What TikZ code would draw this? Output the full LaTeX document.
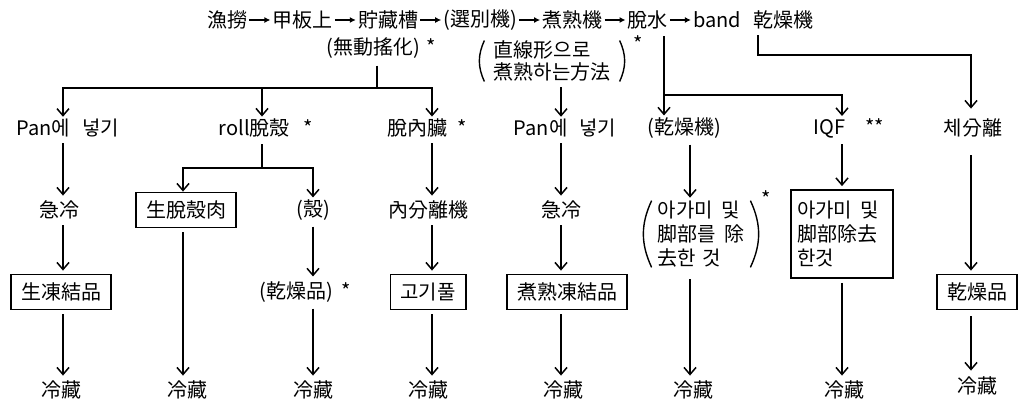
\documentclass[tikz,border=0pt]{standalone}
\usepackage{fontspec}
\newfontfamily\kr{Noto Sans CJK KR}
\usetikzlibrary{arrows.meta,calc,positioning}
\begin{document}
\begin{tikzpicture}[x=1pt,y=-1pt,
  txt/.style={font=\kr\fontsize{20}{24}\selectfont, inner xsep=0pt, inner ysep=2pt},
  boxn/.style={txt, draw, line width=1.8pt, inner xsep=10pt, minimum height=35pt},
  ln/.style={line width=1.5pt},
  arr/.style={ln, -{Straight Barb[length=7pt,width=12pt]}, shorten <=4pt, shorten >=3pt},
  barr/.style={ln, -{Straight Barb[length=7pt,width=12pt]}},
  barr2/.style={ln, {Straight Barb[length=7pt,width=12pt]}-{Straight Barb[length=7pt,width=12pt]}},
  tarr/.style={line width=1.2pt, -{Latex[length=6pt,width=6pt]}, shorten <=2pt, shorten >=2pt},
  paren/.style={line width=1.4pt},
  star/.style={font=\kr\fontsize{20}{24}\selectfont, inner sep=0pt}]
\path[fill=white] (0,0) rectangle (1022,402);
\useasboundingbox (0,0) rectangle (1022,402);

% column coordinates
\coordinate (cA) at (63,0);
\coordinate (cB1) at (183,0);
\coordinate (cB2) at (313,0);
\coordinate (cC) at (432,0);
\coordinate (cD) at (561,0);
\coordinate (cE) at (690,0);
\coordinate (cF) at (842,0);
\coordinate (cG) at (971,0);

% top process line
\node[txt, anchor=west] (t1) at (207,20) {漁撈};
\node[txt, right=25pt of t1] (t2) {甲板上};
\node[txt, right=25pt of t2] (t3) {貯藏槽};
\node[txt, right=25pt of t3] (t4) {(選別機)};
\node[txt, right=25pt of t4] (t5) {煮熟機};
\node[txt, right=25pt of t5] (t6) {脫水};
\node[txt, right=25pt of t6] (t7) {band\hspace{12pt}乾燥機};
\foreach \a/\b in {t1/t2,t2/t3,t3/t4,t4/t5,t5/t6,t6/t7} \draw[tarr] (\a) -- (\b);

% sub notes
\node[txt] (m1) at (381,48) {(無動搖化)\hspace{6pt}*};
\node[txt, align=left, font=\kr\fontsize{20}{22}\selectfont, inner xsep=9pt, inner ysep=0pt] (p1) at (552,61) {直線形으로\\煮熟하는方法};
\draw[paren] (p1.north west) to[bend right=25] (p1.south west);
\draw[paren] (p1.north east) to[bend left=25] (p1.south east);
\node[star] (s1) at (638,44) {*};

% row 2
\node[txt] (pan1) at (68,128) {Pan에\hspace{12pt}넣기};
\node[txt] (roll) at (266,128) {roll脫殼\hspace{14pt}*};
\node[txt] (dn) at (427,128) {脫內臟\hspace{10pt}*};
\node[txt] (pan2) at (565,128) {Pan에\hspace{12pt}넣기};
\node[txt] (kan) at (684,128) {(乾燥機)};
\node[txt] (iqf) at (849,128) {IQF\hspace{20pt}**};
\node[txt] (che) at (973,128) {체分離};

% row 3
\node[txt] (k1) at (59,210) {急冷};
\node[boxn] (b1) at (186,210) {生脫殼肉};
\node[txt] (ka) at (313,210) {(殼)};
\node[txt] (sep) at (428,210) {內分離機};
\node[txt] (k2) at (561,210) {急冷};
\node[txt, align=left, inner xsep=6pt, inner ysep=0pt] (p3) at (701,234) {아가미\hspace{8pt}및\\脚部를\hspace{8pt}除\\去한\hspace{6pt}것};
\draw[paren] (p3.north west) to[bend right=25] (p3.south west);
\draw[paren] (p3.north east) to[bend left=25] (p3.south east);
\node[star] (s3) at (766,199) {*};
\node[boxn, align=left, text width=90pt, inner xsep=6pt, minimum height=88pt] (b2) at (842,234) {아가미\hspace{8pt}및\\脚部除去\\한것};

% row 4
\node[boxn] (b3) at (61,292) {生凍結品};
\node[txt] (dry) at (305,292) {(乾燥品)\hspace{8pt}*};
\node[boxn] (b4) at (428,292) {고기풀};
\node[boxn] (b5) at (567,292) {煮熟凍結品};
\node[boxn] (b6) at (977,292) {乾燥品};

% row 5
\node[txt] (r1) at (61,390) {冷藏};
\node[txt] (r2) at (187,390) {冷藏};
\node[txt] (r3) at (313,390) {冷藏};
\node[txt] (r4) at (428,390) {冷藏};
\node[txt] (r5) at (563,390) {冷藏};
\node[txt] (r6) at (693,390) {冷藏};
\node[txt] (r7) at (844,390) {冷藏};
\node[txt] (r8) at (977,386) {冷藏};

% branch from (無動搖化)
\coordinate (h0) at (377,88);
\coordinate (hL) at (63,88);
\coordinate (hM) at (262,88);
\coordinate (hR) at (432,88);
\draw[ln, shorten <=5pt] (m1.south -| h0) -- (h0);
\draw[barr2] (pan1.north -| hL) -- (hL) -- (hR) -- (dn.north -| hR);
\draw[barr] (hM) -- (roll.north -| hM);

% from straight-line cooking
\draw[arr, shorten <=6pt, shorten >=0pt] (p1.south -| cD) -- (pan2.north -| cD);

% branch from 脫水
\coordinate (e0) at (664,95);
\coordinate (eR) at (842,95);
\draw[barr, shorten <=5pt] (t6.south -| e0) -- (kan.north -| e0);
\draw[barr] (e0) -- (eR) -- (iqf.north -| eR);

% branch from band 乾燥機
\coordinate (g1) at (758,55);
\coordinate (g2) at (971,55);
\draw[barr, shorten <=4pt, shorten >=8pt] (t7.south -| g1) -- (g1) -- (g2) -- (che.north -| g2);

% roll branch
\coordinate (rM) at (262,168);
\coordinate (rL) at (183,168);
\coordinate (rR) at (313,168);
\draw[ln, shorten <=5pt] (roll.south -| rM) -- (rM);
\draw[barr2, shorten <=0pt] (b1.north -| rL) -- (rL) -- (rR) -- (ka.north -| rR);

% column A
\draw[arr] (pan1.south -| cA) -- (k1.north -| cA);
\draw[arr] (k1.south -| cA) -- (b3.north -| cA);
\draw[arr] (b3.south -| cA) -- (r1.north -| cA);
% column B
\draw[arr] (b1.south -| cB1) -- (r2.north -| cB1);
\draw[arr] (ka.south -| cB2) -- (dry.north -| cB2);
\draw[arr] (dry.south -| cB2) -- (r3.north -| cB2);
% column C
\draw[arr] (dn.south -| cC) -- (sep.north -| cC);
\draw[arr] (sep.south -| cC) -- (b4.north -| cC);
\draw[arr] (b4.south -| cC) -- (r4.north -| cC);
% column D
\draw[arr] (pan2.south -| cD) -- (k2.north -| cD);
\draw[arr] (k2.south -| cD) -- (b5.north -| cD);
\draw[arr] (b5.south -| cD) -- (r5.north -| cD);
% column E
\draw[arr] (kan.south -| cE) -- (p3.north -| cE);
\draw[arr, shorten <=12pt] (p3.south -| cE) -- (r6.north -| cE);
% column F
\draw[arr] (iqf.south -| cF) -- (b2.north -| cF);
\draw[arr] (b2.south -| cF) -- (r7.north -| cF);
% column G
\draw[arr, shorten <=16pt] (che.south -| cG) -- (b6.north -| cG);
\draw[arr, shorten <=6pt, shorten >=4pt] (b6.south -| cG) -- (r8.north -| cG);
\end{tikzpicture}
\end{document}
